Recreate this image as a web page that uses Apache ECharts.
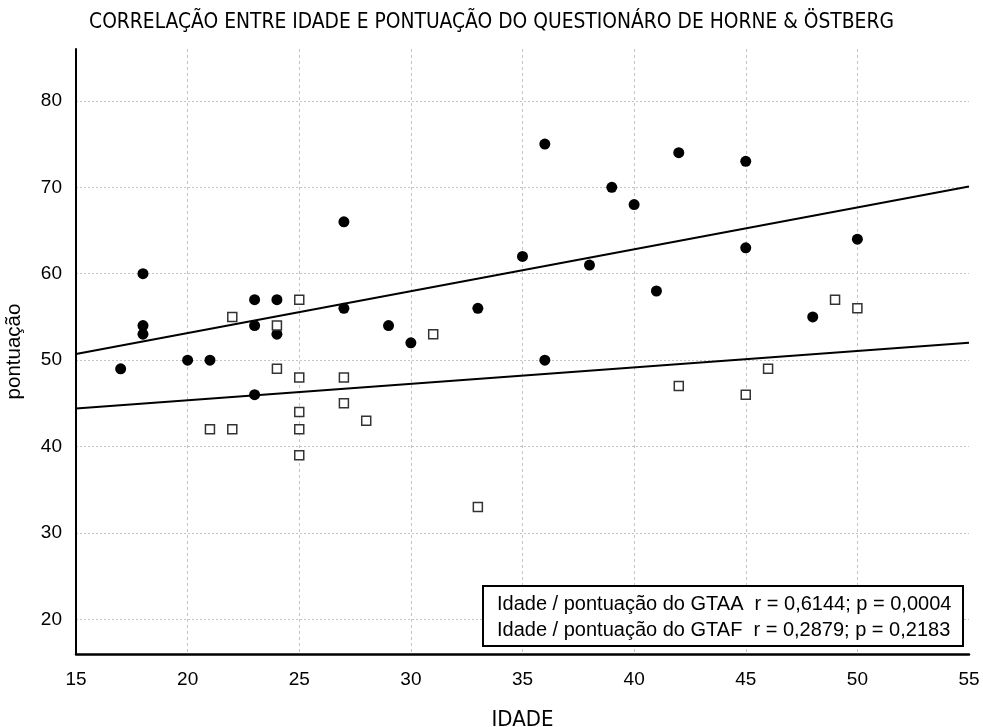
<!DOCTYPE html>
<html>
<head>
<meta charset="utf-8">
<script src="https://cdn.jsdelivr.net/npm/echarts@6/dist/echarts.min.js"></script>
<style>html,body{margin:0;padding:0;background:#fff;}#c{width:983px;height:727px;}</style>
</head>
<body>
<div id="c"></div>
<script>
// GTAA (black dots)
const gtaaAge   = [17, 18, 18, 18, 20, 21, 23, 23, 23, 24, 24, 27, 27, 29, 30, 33, 35, 36, 36, 38, 39, 40, 41, 42, 45, 45, 48, 50];
const gtaaScore = [49, 60, 54, 53, 50, 50, 57, 54, 46, 57, 53, 66, 56, 54, 52, 56, 62, 75, 50, 61, 70, 68, 58, 74, 73, 63, 55, 64];
// GTAF (white squares)
const gtafAge   = [21, 22, 22, 24, 24, 25, 25, 25, 25, 25, 27, 27, 28, 31, 33, 42, 45, 46, 49, 50];
const gtafScore = [42, 55, 42, 54, 49, 57, 48, 44, 42, 39, 48, 45, 43, 53, 33, 47, 46, 49, 57, 56];
// regression line end points
const fitGTAA = [[15, 50.7], [55, 70.1]];
const fitGTAF = [[15, 44.4], [55, 52.0]];
const xTicks = [15, 20, 25, 30, 35, 40, 45, 50, 55];
const legendLines = [
  'Idade / pontuação do GTAA  r = 0,6144; p = 0,0004',
  'Idade / pontuação do GTAF  r = 0,2879; p = 0,2183'
];
const titleText = 'CORRELAÇÃO ENTRE IDADE E PONTUAÇÃO DO QUESTIONÁRO DE HORNE & ÖSTBERG';

const zip = (a, b) => a.map((v, i) => [v, b[i]]);
const chart = echarts.init(document.getElementById('c'), null, {renderer: 'canvas'});
const narrow = '"Liberation Sans Narrow", "DejaVu Sans Condensed", "Liberation Sans", sans-serif';
const reg = '"Liberation Sans", Arial, sans-serif';
const legendFont = '20px "Liberation Sans", Arial, sans-serif';

chart.setOption({
  animation: false,
  backgroundColor: '#fff',
  title: {
    text: titleText, left: 'center', top: 12, padding: 0,
    textStyle: {fontFamily: narrow, fontSize: 20.8, fontWeight: 'normal', color: '#000'}
  },
  grid: {left: 76, right: 14, top: 49, bottom: 73, containLabel: false, outerBoundsMode: 'none'},
  xAxis: {
    type: 'value', min: xTicks[0], max: xTicks[xTicks.length - 1], interval: 5,
    name: 'IDADE', nameLocation: 'middle', nameGap: 55,
    nameTextStyle: {fontFamily: narrow, fontSize: 22, color: '#000'},
    axisLine: {show: true, onZero: false, lineStyle: {color: '#000', width: 2.5}},
    axisTick: {show: false},
    axisLabel: {margin: 16, fontFamily: reg, fontSize: 19, color: '#000'},
    splitLine: {show: true, showMinLine: false, showMaxLine: false, lineStyle: {color: '#c4c4c4', type: [3, 3], width: 1}}
  },
  yAxis: {
    type: 'value', min: 16, max: 86, minInterval: 10, maxInterval: 10,
    name: 'pontuação', nameLocation: 'middle', nameGap: 51, nameRotate: 90,
    nameTextStyle: {fontFamily: reg, fontSize: 20.5, color: '#000'},
    axisLine: {show: true, onZero: false, lineStyle: {color: '#000', width: 2}},
    axisTick: {show: false},
    axisLabel: {margin: 14, fontFamily: reg, fontSize: 19, color: '#000', showMinLabel: false, showMaxLabel: false},
    splitLine: {show: true, showMinLine: false, showMaxLine: false, lineStyle: {color: '#c4c4c4', type: [2, 2], width: 1}}
  },
  series: [
    {
      type: 'line', data: fitGTAA, symbol: 'none', silent: true, z: 3,
      lineStyle: {color: '#000', width: 2}
    },
    {
      type: 'line', data: fitGTAF, symbol: 'none', silent: true, z: 3,
      lineStyle: {color: '#000', width: 2}
    },
    {
      type: 'scatter', data: zip(gtaaAge, gtaaScore), symbol: 'circle', symbolSize: 11, z: 4,
      itemStyle: {color: '#000', opacity: 1}
    },
    {
      type: 'scatter', data: zip(gtafAge, gtafScore), symbol: 'rect', symbolSize: 9, z: 5,
      itemStyle: {color: '#fff', borderColor: '#333', borderWidth: 1.5, opacity: 1}
    }
  ],
  graphic: [
    {type: 'rect', z: 100, shape: {x: 483, y: 586, width: 480, height: 60},
     style: {fill: '#fff', stroke: '#000', lineWidth: 2}},
    {type: 'text', z: 101, x: 497, y: 604, style: {text: legendLines[0], font: legendFont, fill: '#000', verticalAlign: 'middle'}},
    {type: 'text', z: 101, x: 497, y: 630, style: {text: legendLines[1], font: legendFont, fill: '#000', verticalAlign: 'middle'}}
  ]
});
</script>
</body>
</html>
